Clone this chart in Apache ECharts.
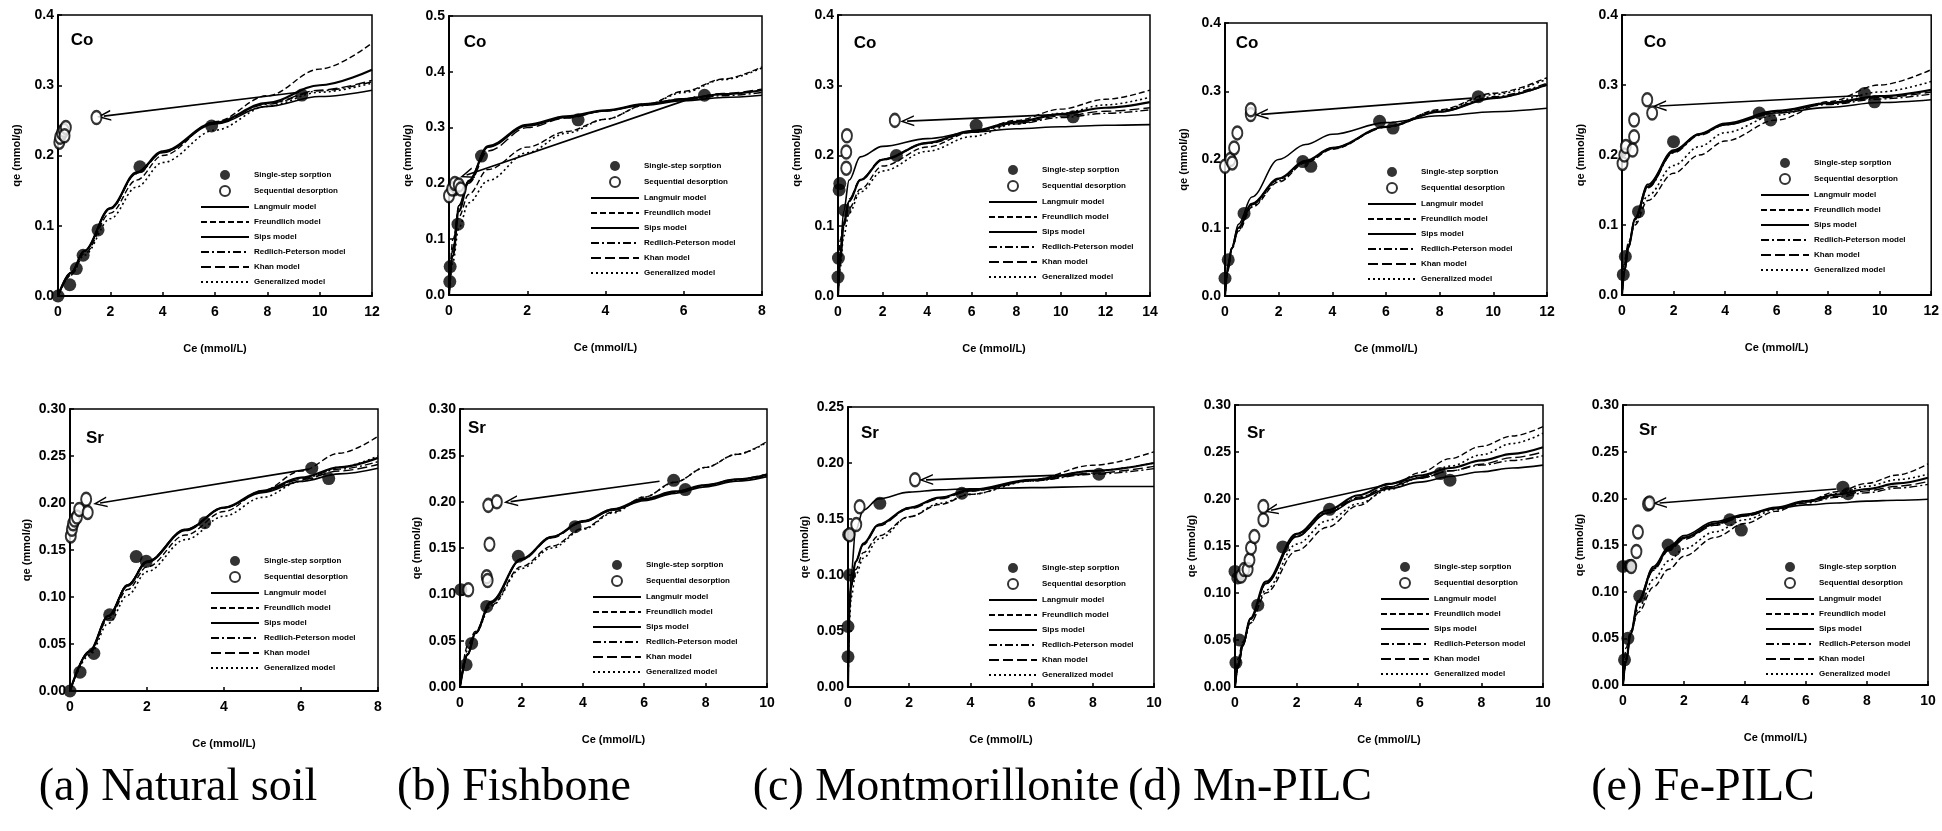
<!DOCTYPE html>
<html style="height: 100%">
<head>
  <meta charset="utf-8">
  <title>Co and Sr sorption / desorption isotherms</title>
  <script src="https://cdn.jsdelivr.net/npm/echarts@6/dist/echarts.min.js"></script>
</head>
<body style="height: 100%; margin: 0; background: #fff">
  <div id="main" style="width: 1942px; height: 831px"></div>
  <script type="text/javascript">
    // legend entries, shared by every panel
    var seriesNames = ['Single-step sorption', 'Sequential desorption', 'Langmuir model', 'Freundlich model',
      'Sips model', 'Redlich-Peterson model', 'Khan model', 'Generalized model'];
    var captions = ['(a) Natural soil', '(b) Fishbone', '(c) Montmorillonite', '(d) Mn-PILC', '(e) Fe-PILC'];

    // ---- (a) Natural soil, Co ----
    var soilCoSorb = [[0, 0], [0.45, 0.016], [0.7, 0.039], [0.96, 0.058], [1.53, 0.094], [3.13, 0.184], [5.87, 0.242], [9.32, 0.286]];
    var soilCoDesorb = [[0.05, 0.219], [0.08, 0.226], [0.15, 0.232], [0.22, 0.236], [0.3, 0.24], [0.25, 0.228], [1.47, 0.254]];
    var soilCoArrow = [[9.2, 0.29], [1.75, 0.256]];
    var soilCoCe = [0, 0.5, 1, 2, 3, 4, 6, 8, 10, 12];
    var soilCoLangmuir = [0, 0.033, 0.064, 0.125, 0.175, 0.205, 0.245, 0.27, 0.284, 0.293];
    var soilCoFreundlich = [0, 0.03, 0.06, 0.118, 0.165, 0.2, 0.248, 0.285, 0.323, 0.36];
    var soilCoSips = [0, 0.033, 0.064, 0.125, 0.176, 0.206, 0.247, 0.275, 0.3, 0.322];
    var soilCoRP = [0, 0.033, 0.064, 0.125, 0.175, 0.205, 0.246, 0.273, 0.292, 0.305];
    var soilCoKhan = [0, 0.033, 0.064, 0.124, 0.174, 0.204, 0.246, 0.274, 0.293, 0.307];
    var soilCoGeneral = [0, 0.03, 0.058, 0.11, 0.155, 0.19, 0.236, 0.27, 0.29, 0.303];

    // ---- (b) Fishbone, Co ----
    var fishCoSorb = [[0.02, 0.024], [0.03, 0.051], [0.23, 0.127], [0.12, 0.188], [0.83, 0.249], [3.3, 0.314], [6.53, 0.358]];
    var fishCoDesorb = [[0, 0.178], [0.08, 0.19], [0.15, 0.2], [0.25, 0.197], [0.3, 0.19]];
    var fishCoArrow = [[6.3, 0.355], [0.45, 0.215]];
    var fishCoCe = [0, 0.1, 0.25, 0.5, 1, 2, 3, 4, 5, 6, 7, 8];
    var fishCoLangmuir = [0, 0.08, 0.16, 0.205, 0.265, 0.303, 0.318, 0.33, 0.34, 0.348, 0.354, 0.358];
    var fishCoFreundlich = [0, 0.1, 0.14, 0.18, 0.225, 0.265, 0.293, 0.315, 0.34, 0.365, 0.387, 0.409];
    var fishCoSips = [0, 0.07, 0.15, 0.203, 0.267, 0.305, 0.32, 0.331, 0.342, 0.351, 0.36, 0.367];
    var fishCoRP = [0, 0.075, 0.155, 0.204, 0.266, 0.304, 0.319, 0.33, 0.341, 0.35, 0.357, 0.363];
    var fishCoKhan = [0, 0.085, 0.16, 0.2, 0.258, 0.3, 0.317, 0.33, 0.342, 0.352, 0.361, 0.369];
    var fishCoGeneral = [0, 0.06, 0.12, 0.165, 0.205, 0.255, 0.29, 0.315, 0.34, 0.363, 0.386, 0.407];

    // ---- (c) Montmorillonite, Co ----
    var montCoSorb = [[0, 0.027], [0.02, 0.054], [0.05, 0.151], [0.08, 0.16], [0.3, 0.122], [2.62, 0.2], [6.2, 0.243], [10.55, 0.255]];
    var montCoDesorb = [[0.37, 0.182], [0.37, 0.205], [0.4, 0.228], [2.55, 0.25]];
    var montCoArrow = [[10.3, 0.259], [3.1, 0.249]];
    var montCoCe = [0, 0.1, 0.25, 0.5, 1, 2, 4, 6, 8, 10, 12, 14];
    var montCoLangmuir = [0, 0.06, 0.12, 0.165, 0.198, 0.213, 0.224, 0.233, 0.238, 0.241, 0.243, 0.244];
    var montCoFreundlich = [0, 0.08, 0.1, 0.125, 0.152, 0.185, 0.212, 0.233, 0.25, 0.266, 0.28, 0.293];
    var montCoSips = [0, 0.05, 0.1, 0.135, 0.165, 0.194, 0.218, 0.235, 0.248, 0.259, 0.268, 0.276];
    var montCoRP = [0, 0.06, 0.105, 0.135, 0.165, 0.194, 0.217, 0.233, 0.245, 0.254, 0.26, 0.265];
    var montCoKhan = [0, 0.055, 0.105, 0.138, 0.166, 0.195, 0.218, 0.234, 0.246, 0.256, 0.263, 0.268];
    var montCoGeneral = [0, 0.04, 0.085, 0.118, 0.148, 0.178, 0.206, 0.227, 0.245, 0.26, 0.272, 0.283];

    // ---- (d) Mn-PILC, Co ----
    var mnCoSorb = [[0, 0.026], [0.12, 0.053], [0.71, 0.121], [2.9, 0.197], [3.2, 0.19], [5.76, 0.256], [6.26, 0.246], [9.44, 0.292]];
    var mnCoDesorb = [[0, 0.19], [0.2, 0.2], [0.27, 0.195], [0.34, 0.217], [0.46, 0.239], [0.96, 0.266], [0.96, 0.273]];
    var mnCoArrow = [[9.2, 0.29], [1.35, 0.266]];
    var mnCoCe = [0, 0.1, 0.25, 0.5, 1, 2, 3, 4, 6, 8, 10, 12];
    var mnCoLangmuir = [0, 0.035, 0.07, 0.105, 0.145, 0.2, 0.222, 0.237, 0.254, 0.264, 0.27, 0.275];
    var mnCoFreundlich = [0, 0.045, 0.07, 0.095, 0.13, 0.167, 0.195, 0.215, 0.248, 0.273, 0.297, 0.32];
    var mnCoSips = [0, 0.04, 0.07, 0.1, 0.135, 0.172, 0.198, 0.217, 0.248, 0.27, 0.29, 0.31];
    var mnCoRP = [0, 0.04, 0.07, 0.1, 0.134, 0.171, 0.197, 0.217, 0.248, 0.271, 0.292, 0.312];
    var mnCoKhan = [0, 0.038, 0.069, 0.1, 0.135, 0.172, 0.197, 0.216, 0.247, 0.27, 0.29, 0.309];
    var mnCoGeneral = [0, 0.04, 0.068, 0.097, 0.132, 0.169, 0.196, 0.216, 0.248, 0.272, 0.295, 0.318];

    // ---- (e) Fe-PILC, Co ----
    var feCoSorb = [[0.05, 0.029], [0.13, 0.055], [0.64, 0.119], [2.0, 0.219], [5.33, 0.26], [5.77, 0.25], [9.41, 0.288], [9.8, 0.276]];
    var feCoDesorb = [[0.02, 0.188], [0.09, 0.2], [0.15, 0.212], [0.41, 0.207], [0.47, 0.226], [0.47, 0.25], [0.98, 0.279], [1.17, 0.26]];
    var feCoArrow = [[9.3, 0.285], [1.45, 0.27]];
    var feCoCe = [0, 0.1, 0.25, 0.5, 1, 2, 3, 4, 6, 8, 10, 12];
    var feCoLangmuir = [0, 0.035, 0.07, 0.11, 0.158, 0.207, 0.23, 0.243, 0.26, 0.268, 0.275, 0.279];
    var feCoFreundlich = [0, 0.05, 0.075, 0.1, 0.135, 0.174, 0.2, 0.22, 0.25, 0.276, 0.3, 0.322];
    var feCoSips = [0, 0.035, 0.068, 0.108, 0.155, 0.205, 0.23, 0.245, 0.263, 0.274, 0.284, 0.293];
    var feCoRP = [0, 0.035, 0.068, 0.107, 0.153, 0.203, 0.228, 0.243, 0.261, 0.272, 0.28, 0.287];
    var feCoKhan = [0, 0.035, 0.069, 0.108, 0.154, 0.204, 0.229, 0.244, 0.262, 0.273, 0.282, 0.29];
    var feCoGeneral = [0, 0.045, 0.073, 0.103, 0.142, 0.185, 0.212, 0.232, 0.257, 0.275, 0.29, 0.305];

    // ---- (a) Natural soil, Sr ----
    var soilSrSorb = [[0, 0], [0.26, 0.02], [0.62, 0.04], [1.03, 0.081], [1.72, 0.143], [1.98, 0.138], [3.5, 0.179], [6.28, 0.237], [6.72, 0.226]];
    var soilSrDesorb = [[0.02, 0.165], [0.05, 0.172], [0.08, 0.178], [0.12, 0.182], [0.18, 0.185], [0.24, 0.193], [0.42, 0.204], [0.46, 0.19]];
    var soilSrArrow = [[6.2, 0.236], [0.78, 0.2]];
    var soilSrCe = [0, 0.5, 1, 1.5, 2, 3, 4, 5, 6, 7, 8];
    var soilSrLangmuir = [0, 0.042, 0.08, 0.113, 0.138, 0.172, 0.195, 0.211, 0.223, 0.231, 0.237];
    var soilSrFreundlich = [0, 0.04, 0.077, 0.108, 0.132, 0.166, 0.191, 0.213, 0.234, 0.253, 0.271];
    var soilSrSips = [0, 0.042, 0.08, 0.112, 0.137, 0.171, 0.195, 0.213, 0.227, 0.238, 0.248];
    var soilSrRP = [0, 0.042, 0.08, 0.112, 0.137, 0.171, 0.195, 0.212, 0.226, 0.236, 0.244];
    var soilSrKhan = [0, 0.042, 0.08, 0.113, 0.138, 0.172, 0.195, 0.212, 0.225, 0.234, 0.241];
    var soilSrGeneral = [0, 0.038, 0.072, 0.102, 0.127, 0.161, 0.186, 0.206, 0.223, 0.238, 0.25];

    // ---- (b) Fishbone, Sr ----
    var fishSrSorb = [[0.03, 0.105], [0.2, 0.024], [0.38, 0.047], [0.87, 0.087], [1.9, 0.141], [3.75, 0.173], [6.96, 0.223], [7.34, 0.213]];
    var fishSrDesorb = [[0.27, 0.105], [0.87, 0.119], [0.9, 0.115], [0.96, 0.154], [0.92, 0.196], [1.2, 0.2]];
    var fishSrArrow = [[6.5, 0.222], [1.65, 0.2]];
    var fishSrCe = [0, 0.25, 0.5, 1, 2, 3, 4, 5, 6, 7, 8, 9, 10];
    var fishSrLangmuir = [0, 0.035, 0.058, 0.09, 0.138, 0.162, 0.178, 0.191, 0.201, 0.209, 0.216, 0.222, 0.227];
    var fishSrFreundlich = [0, 0.045, 0.06, 0.088, 0.13, 0.152, 0.171, 0.189, 0.205, 0.221, 0.237, 0.251, 0.265];
    var fishSrSips = [0, 0.035, 0.058, 0.092, 0.138, 0.162, 0.179, 0.192, 0.203, 0.211, 0.218, 0.224, 0.229];
    var fishSrRP = [0, 0.036, 0.059, 0.092, 0.138, 0.162, 0.179, 0.192, 0.202, 0.21, 0.217, 0.223, 0.228];
    var fishSrKhan = [0, 0.035, 0.058, 0.091, 0.137, 0.161, 0.178, 0.191, 0.202, 0.21, 0.218, 0.224, 0.23];
    var fishSrGeneral = [0, 0.04, 0.058, 0.087, 0.128, 0.15, 0.17, 0.188, 0.205, 0.221, 0.237, 0.251, 0.264];

    // ---- (c) Montmorillonite, Sr ----
    var montSrSorb = [[0, 0.027], [0, 0.054], [0.05, 0.1], [0.02, 0.136], [1.04, 0.164], [3.72, 0.173], [8.2, 0.19]];
    var montSrDesorb = [[0.05, 0.136], [0.27, 0.145], [0.38, 0.161], [2.19, 0.185]];
    var montSrArrow = [[7.9, 0.19], [2.55, 0.185]];
    var montSrCe = [0, 0.05, 0.1, 0.25, 0.5, 1, 2, 3, 4, 6, 8, 10];
    var montSrLangmuir = [0, 0.07, 0.1, 0.14, 0.158, 0.168, 0.174, 0.176, 0.177, 0.178, 0.179, 0.179];
    var montSrFreundlich = [0, 0.08, 0.09, 0.105, 0.12, 0.135, 0.152, 0.163, 0.172, 0.185, 0.198, 0.21];
    var montSrSips = [0, 0.07, 0.09, 0.112, 0.128, 0.145, 0.16, 0.169, 0.176, 0.185, 0.193, 0.2];
    var montSrRP = [0, 0.07, 0.09, 0.112, 0.128, 0.145, 0.16, 0.169, 0.175, 0.184, 0.19, 0.195];
    var montSrKhan = [0, 0.07, 0.09, 0.112, 0.127, 0.144, 0.159, 0.168, 0.175, 0.184, 0.191, 0.197];
    var montSrGeneral = [0, 0.06, 0.08, 0.1, 0.115, 0.132, 0.152, 0.164, 0.172, 0.184, 0.193, 0.2];

    // ---- (d) Mn-PILC, Sr ----
    var mnSrSorb = [[0.03, 0.026], [0.14, 0.05], [0.74, 0.087], [1.55, 0.149], [3.07, 0.189], [6.66, 0.227], [6.98, 0.22], [0, 0.123], [0.09, 0.116]];
    var mnSrDesorb = [[0.2, 0.118], [0.3, 0.125], [0.41, 0.125], [0.47, 0.135], [0.52, 0.148], [0.63, 0.16], [0.92, 0.178], [0.92, 0.192]];
    var mnSrArrow = [[6.3, 0.225], [1.17, 0.188]];
    var mnSrCe = [0, 0.1, 0.25, 0.5, 1, 2, 3, 4, 5, 6, 7, 8, 9, 10];
    var mnSrLangmuir = [0, 0.02, 0.043, 0.072, 0.11, 0.16, 0.185, 0.2, 0.211, 0.218, 0.224, 0.229, 0.233, 0.236];
    var mnSrFreundlich = [0, 0.03, 0.048, 0.068, 0.1, 0.145, 0.17, 0.193, 0.212, 0.228, 0.243, 0.256, 0.267, 0.277];
    var mnSrSips = [0, 0.022, 0.045, 0.073, 0.112, 0.163, 0.188, 0.204, 0.216, 0.225, 0.233, 0.241, 0.248, 0.255];
    var mnSrRP = [0, 0.022, 0.045, 0.073, 0.111, 0.161, 0.186, 0.202, 0.213, 0.222, 0.23, 0.236, 0.241, 0.246];
    var mnSrKhan = [0, 0.022, 0.044, 0.072, 0.11, 0.16, 0.185, 0.201, 0.213, 0.222, 0.23, 0.237, 0.244, 0.25];
    var mnSrGeneral = [0, 0.025, 0.045, 0.068, 0.103, 0.152, 0.177, 0.195, 0.21, 0.223, 0.235, 0.247, 0.259, 0.27];

    // ---- (e) Fe-PILC, Sr ----
    var feSrSorb = [[0.05, 0.027], [0.16, 0.05], [0.55, 0.095], [1.48, 0.15], [1.69, 0.145], [3.5, 0.177], [3.88, 0.166], [7.21, 0.212], [7.38, 0.205], [0, 0.127], [0.22, 0.128]];
    var feSrDesorb = [[0.27, 0.127], [0.44, 0.143], [0.49, 0.164], [0.82, 0.194], [0.87, 0.195]];
    var feSrArrow = [[7.0, 0.21], [1.2, 0.195]];
    var feSrCe = [0, 0.1, 0.25, 0.5, 1, 1.5, 2, 3, 4, 5, 6, 7, 8, 9, 10];
    var feSrLangmuir = [0, 0.025, 0.055, 0.09, 0.127, 0.148, 0.16, 0.175, 0.183, 0.189, 0.193, 0.195, 0.197, 0.198, 0.199];
    var feSrFreundlich = [0, 0.04, 0.058, 0.078, 0.105, 0.124, 0.138, 0.158, 0.173, 0.186, 0.197, 0.207, 0.216, 0.225, 0.237];
    var feSrSips = [0, 0.025, 0.055, 0.09, 0.125, 0.146, 0.158, 0.173, 0.182, 0.19, 0.197, 0.204, 0.21, 0.216, 0.222];
    var feSrRP = [0, 0.025, 0.055, 0.089, 0.124, 0.145, 0.157, 0.172, 0.181, 0.189, 0.195, 0.201, 0.206, 0.211, 0.215];
    var feSrKhan = [0, 0.025, 0.054, 0.088, 0.123, 0.144, 0.156, 0.171, 0.181, 0.189, 0.196, 0.202, 0.208, 0.213, 0.218];
    var feSrGeneral = [0, 0.03, 0.055, 0.082, 0.113, 0.133, 0.146, 0.164, 0.177, 0.188, 0.197, 0.205, 0.213, 0.22, 0.226];

    // panel layout: rect = [left, top, width, height] of plot box
    var panels = [
      { rect: [58, 15, 314, 281], xMax: 12, yMax: 0.4, yDec: 1, metal: 'Co', metalAt: [82, 40], legendAt: [200, 170],
        sorb: soilCoSorb, desorb: soilCoDesorb, arrow: soilCoArrow, ce: soilCoCe,
        models: [soilCoLangmuir, soilCoFreundlich, soilCoSips, soilCoRP, soilCoKhan, soilCoGeneral] },
      { rect: [449, 16, 313, 279], xMax: 8, yMax: 0.5, yDec: 1, metal: 'Co', metalAt: [475, 42], legendAt: [590, 161],
        sorb: fishCoSorb, desorb: fishCoDesorb, arrow: fishCoArrow, ce: fishCoCe,
        models: [fishCoLangmuir, fishCoFreundlich, fishCoSips, fishCoRP, fishCoKhan, fishCoGeneral] },
      { rect: [838, 15, 312, 281], xMax: 14, yMax: 0.4, yDec: 1, metal: 'Co', metalAt: [865, 43], legendAt: [988, 165],
        sorb: montCoSorb, desorb: montCoDesorb, arrow: montCoArrow, ce: montCoCe,
        models: [montCoLangmuir, montCoFreundlich, montCoSips, montCoRP, montCoKhan, montCoGeneral] },
      { rect: [1225, 23, 322, 273], xMax: 12, yMax: 0.4, yDec: 1, metal: 'Co', metalAt: [1247, 43], legendAt: [1367, 167],
        sorb: mnCoSorb, desorb: mnCoDesorb, arrow: mnCoArrow, ce: mnCoCe,
        models: [mnCoLangmuir, mnCoFreundlich, mnCoSips, mnCoRP, mnCoKhan, mnCoGeneral] },
      { rect: [1622, 15, 314, 280], xMax: 12, yMax: 0.4, yDec: 1, metal: 'Co', metalAt: [1655, 42], legendAt: [1760, 158],
        sorb: feCoSorb, desorb: feCoDesorb, arrow: feCoArrow, ce: feCoCe,
        models: [feCoLangmuir, feCoFreundlich, feCoSips, feCoRP, feCoKhan, feCoGeneral] },
      { rect: [70, 409, 308, 282], xMax: 8, yMax: 0.3, yDec: 2, metal: 'Sr', metalAt: [95, 438], legendAt: [210, 556],
        sorb: soilSrSorb, desorb: soilSrDesorb, arrow: soilSrArrow, ce: soilSrCe,
        models: [soilSrLangmuir, soilSrFreundlich, soilSrSips, soilSrRP, soilSrKhan, soilSrGeneral] },
      { rect: [460, 409, 307, 278], xMax: 10, yMax: 0.3, yDec: 2, metal: 'Sr', metalAt: [477, 428], legendAt: [592, 560],
        sorb: fishSrSorb, desorb: fishSrDesorb, arrow: fishSrArrow, ce: fishSrCe,
        models: [fishSrLangmuir, fishSrFreundlich, fishSrSips, fishSrRP, fishSrKhan, fishSrGeneral] },
      { rect: [848, 407, 306, 280], xMax: 10, yMax: 0.25, yDec: 2, metal: 'Sr', metalAt: [870, 433], legendAt: [988, 563],
        sorb: montSrSorb, desorb: montSrDesorb, arrow: montSrArrow, ce: montSrCe,
        models: [montSrLangmuir, montSrFreundlich, montSrSips, montSrRP, montSrKhan, montSrGeneral] },
      { rect: [1235, 405, 308, 282], xMax: 10, yMax: 0.3, yDec: 2, metal: 'Sr', metalAt: [1256, 433], legendAt: [1380, 562],
        sorb: mnSrSorb, desorb: mnSrDesorb, arrow: mnSrArrow, ce: mnSrCe,
        models: [mnSrLangmuir, mnSrFreundlich, mnSrSips, mnSrRP, mnSrKhan, mnSrGeneral] },
      { rect: [1623, 405, 305, 280], xMax: 10, yMax: 0.3, yDec: 2, metal: 'Sr', metalAt: [1648, 430], legendAt: [1765, 562],
        sorb: feSrSorb, desorb: feSrDesorb, arrow: feSrArrow, ce: feSrCe,
        models: [feSrLangmuir, feSrFreundlich, feSrSips, feSrRP, feSrKhan, feSrGeneral] }
    ];
    var captionX = [178, 514, 936, 1250, 1703];

    // line style per model: Langmuir, Freundlich, Sips, R-P, Khan, Generalized
    var modelLine = [
      { type: 'solid', width: 1.6 },
      { type: [6, 3], width: 1.4 },
      { type: 'solid', width: 2.2 },
      { type: [8, 3, 2, 3], width: 1.4 },
      { type: [10, 4], width: 1.4 },
      { type: [2, 3], width: 1.6 }
    ];
    var chevron = 'path://M5,0 L10,10 L8.6,10 L5,2.8 L1.4,10 L0,10 Z';
    var tickFont = { color: '#000', fontWeight: 'bold', fontSize: 14, fontFamily: 'Liberation Sans' };
    var nameFont = { color: '#000', fontWeight: 'bold', fontSize: 11, fontFamily: 'Liberation Sans' };
    var noSymbol = { color: 'rgba(0,0,0,0)', borderColor: 'rgba(0,0,0,0)', borderWidth: 0 };

    var grids = [], xAxes = [], yAxes = [], series = [], legends = [], graphics = [];

    panels.forEach(function (p, i) {
      var bottomRow = i >= 5;
      grids.push({ left: p.rect[0], top: p.rect[1], width: p.rect[2], height: p.rect[3],
        show: true, borderColor: '#000', borderWidth: 1.5 });
      xAxes.push({
        type: 'value', gridIndex: i, min: 0, max: p.xMax, interval: 2,
        name: 'Ce (mmol/L)', nameLocation: 'middle', nameGap: 47, nameTextStyle: nameFont,
        axisLine: { lineStyle: { color: '#000', width: 2 } },
        axisTick: { inside: true, length: 4, lineStyle: { color: '#000', width: 1.5 } },
        axisLabel: Object.assign({ margin: 9 }, tickFont),
        splitLine: { show: false }
      });
      yAxes.push({
        type: 'value', gridIndex: i, min: 0, max: p.yMax, interval: bottomRow ? 0.05 : 0.1,
        name: 'qe (mmol/g)', nameLocation: 'middle', nameGap: bottomRow ? 38 : 36, nameTextStyle: nameFont,
        axisLine: { lineStyle: { color: '#000', width: 2 } },
        axisTick: { inside: true, length: 4, lineStyle: { color: '#000', width: 1.5 } },
        axisLabel: Object.assign({ margin: 4, formatter: function (v) { return v.toFixed(p.yDec); } }, tickFont),
        splitLine: { show: false }
      });
      p.models.forEach(function (vals, k) {
        series.push({
          name: seriesNames[k + 2], type: 'line', xAxisIndex: i, yAxisIndex: i,
          data: p.ce.map(function (x, j) { return [x, vals[j]]; }),
          symbol: 'none', showSymbol: false, smooth: 0.35, smoothMonotone: 'x',
          itemStyle: noSymbol,
          lineStyle: Object.assign({ color: '#000' }, modelLine[k]),
          z: 2, silent: true
        });
      });
      series.push({
        name: seriesNames[0], type: 'scatter', xAxisIndex: i, yAxisIndex: i, data: p.sorb,
        symbol: 'circle', symbolSize: 13, itemStyle: { color: '#000' }, z: 4, silent: true
      });
      series.push({
        name: seriesNames[1], type: 'scatter', xAxisIndex: i, yAxisIndex: i, data: p.desorb,
        symbol: 'circle', symbolSize: [10, 13],
        itemStyle: { color: '#fff', borderColor: '#000', borderWidth: 2.2 }, z: 5, silent: true,
        markLine: {
          silent: true, symbol: ['none', chevron], symbolSize: [11, 14],
          label: { show: false }, lineStyle: { color: '#000', width: 1.7, type: 'solid' },
          data: [[{ coord: p.arrow[0] }, { coord: p.arrow[1] }]]
        }
      });
      legends.push({
        left: p.legendAt[0], top: p.legendAt[1], orient: 'vertical', padding: 0,
        itemWidth: 48, itemHeight: 10, itemGap: 5, selectedMode: false,
        textStyle: { fontSize: 8, fontWeight: 'bold', color: '#000', lineHeight: 10, fontFamily: 'Liberation Sans' },
        data: seriesNames
      });
      graphics.push({
        type: 'text', x: p.metalAt[0], y: p.metalAt[1],
        style: { text: p.metal, font: 'bold 17px "Liberation Sans"', fill: '#000', textAlign: 'center', textVerticalAlign: 'middle' }
      });
    });

    captions.forEach(function (c, i) {
      graphics.push({
        type: 'text', x: captionX[i], y: 788,
        style: { text: c, font: '46px "Liberation Serif"', fill: '#000', textAlign: 'center', textVerticalAlign: 'middle' }
      });
    });

    var option = {
      animation: false,
      backgroundColor: '#fff',
      grid: grids,
      xAxis: xAxes,
      yAxis: yAxes,
      legend: legends,
      series: series,
      graphic: graphics
    };

    var chart = echarts.init(document.getElementById('main'));
    chart.setOption(option);
  </script>
</body>
</html>
